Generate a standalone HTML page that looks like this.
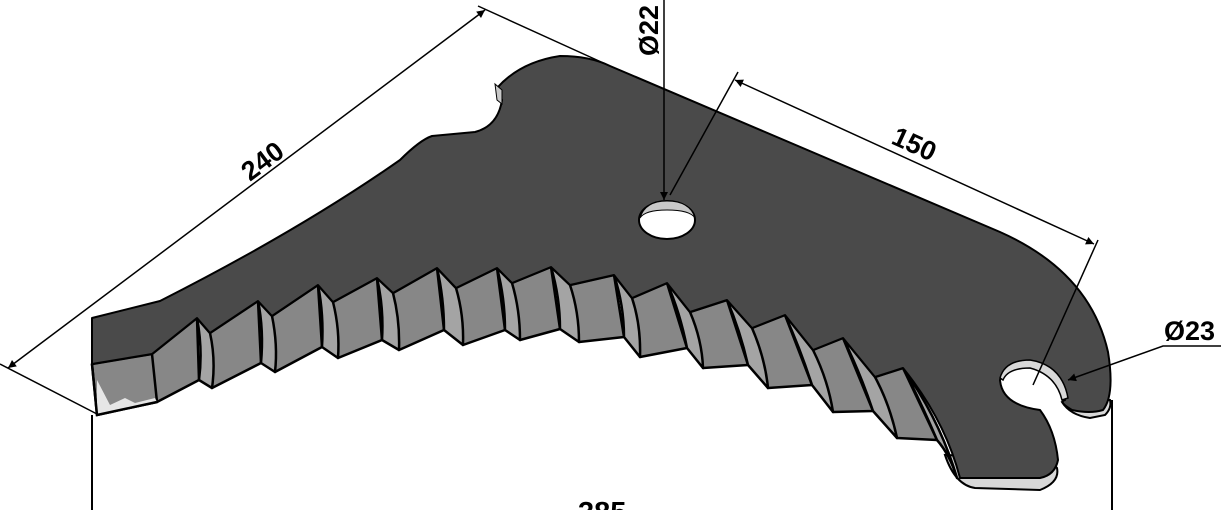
<!DOCTYPE html>
<html><head><meta charset="utf-8"><style>
html,body{margin:0;padding:0;background:#fff;width:1221px;height:510px;overflow:hidden}
svg{display:block}
text{font-family:"Liberation Sans",Arial,sans-serif;font-weight:bold;fill:#000}
</style></head><body>
<svg width="1221" height="510" viewBox="0 0 1221 510" xmlns="http://www.w3.org/2000/svg">
<defs>
<marker id="a" viewBox="0 0 10 10" refX="10" refY="5" markerWidth="10" markerHeight="8" orient="auto-start-reverse" markerUnits="userSpaceOnUse"><path d="M0,0 L10,5 L0,10 z" fill="#000"/></marker>
</defs>
<path d="M945,455 Q955,485 975,488 L1040,490 Q1060,482 1057,468 L1050,460 Z" fill="#d8d8d8" stroke="#000" stroke-width="2"/>
<path d="M1062,402 Q1070,415 1090,418 L1105,415 Q1112,408 1110,400 L1070,398 Z" fill="#d8d8d8" stroke="#000" stroke-width="2"/>
<g fill="#878787" stroke="#000" stroke-width="2.5" stroke-linejoin="round">
<path d="M92,364 L152,354 Q158,380 157,402 L97,415 Z"/>
<path d="M210,333 L258,301 L261,363 L212,388 Z"/>
<path d="M272,316 L318,285 L322,347 L275,372 Z"/>
<path d="M333,302 L377,278 L382,340 L338,358 Z"/>
<path d="M393,293 L437,268 L444,330 L399,350 Z"/>
<path d="M456,288 L497,268 L505,330 L463,345 Z"/>
<path d="M512,283 L551,267 L560,329 L520,340 Z"/>
<path d="M570,285 L614,275 L624,337 L579,342 Z"/>
<path d="M632,298 L667,283 L687,348 L640,357 Z"/>
<path d="M690,312 L727,300 L748,365 L703,368 Z"/>
<path d="M752,328 L785,315 L812,385 L768,388 Z"/>
<path d="M813,350 L843,338 L873,411 L833,412 Z"/>
<path d="M875,377 L903,368 L937,440 L897,438 Z"/>
<path d="M152,354 L197,318 L199,380 L157,402 Z"/>
</g>
<g fill="#a4a4a4" stroke="#000" stroke-width="2.5" stroke-linejoin="round">
<path d="M197,318 L210,333 Q216,360 212,388 L199,380 Q203,350 197,318 Z"/>
<path d="M258,301 L272,316 Q278,345 275,372 L261,363 Q264,330 258,301 Z"/>
<path d="M318,285 L333,302 Q340,330 338,358 L322,347 Q324,315 318,285 Z"/>
<path d="M377,278 L393,293 Q400,320 399,350 L382,340 Q384,308 377,278 Z"/>
<path d="M437,268 L456,288 Q464,315 463,345 L444,330 Q444,298 437,268 Z"/>
<path d="M497,268 L512,283 Q520,310 520,340 L505,330 Q505,298 497,268 Z"/>
<path d="M551,267 L570,285 Q579,312 579,342 L560,329 Q560,297 551,267 Z"/>
<path d="M614,275 L632,298 Q641,325 640,357 L624,337 Q624,305 614,275 Z"/>
<path d="M667,283 L690,312 Q702,340 703,368 L687,348 Q680,312 667,283 Z"/>
<path d="M727,300 L752,328 Q765,358 768,388 L748,365 Q740,330 727,300 Z"/>
<path d="M785,315 L813,350 Q828,380 833,412 L812,385 Q800,348 785,315 Z"/>
<path d="M843,338 L875,377 Q890,405 897,438 L873,411 Q860,372 843,338 Z"/>
<path d="M903,368 Q940,420 957,478 Q950,455 937,440 Q920,400 903,368 Z"/>
</g>
<path d="M97,380 L110,405 L125,398 L135,403 L155,398 L157,402 L97,415 Z" fill="#e6e6e6"/>
<path d="M92,364 L97,415 L157,402" fill="none" stroke="#000" stroke-width="2.5"/>
<path d="M92,318 L160,301 Q300,230 400,160 Q420,140 432,136 L475,132 Q498,126 502,100 L497,88 Q520,62 560,56 Q590,56 610,66 L1000,232 Q1090,272 1108,352 Q1115,395 1103,410 Q1090,414 1072,410 Q1058,402 1065,400 Q1060,370 1030,362 Q1005,362 1000,380 Q1002,405 1040,410 Q1055,430 1058,460 Q1055,475 1040,478 L960,478 Q945,420 903,368 L875,377 L843,338 L813,350 L785,315 L752,328 L727,300 L690,312 L667,283 L632,298 L614,275 L570,285 L551,267 L512,283 L497,268 L456,288 L437,268 L393,293 L377,278 L333,302 L318,285 L272,316 L258,301 L210,333 L197,318 L152,354 L92,364 Z" fill="#4a4a4a" stroke="#000" stroke-width="2" stroke-linejoin="round"/>
<path d="M1000,378 Q1005,360 1030,360 Q1062,365 1068,398 L1062,400 Q1056,375 1030,368 Q1008,368 1003,380 Z" fill="#d8d8d8" stroke="#000" stroke-width="1.5"/>
<path d="M495,84 L497,100 L502,104 L502,90 Z" fill="#c8c8c8" stroke="#000" stroke-width="1"/>
<ellipse cx="667" cy="220" rx="28" ry="19" fill="#fff" stroke="#000" stroke-width="2"/>
<path d="M640,218 Q645,201 667,201 Q690,201 695,218 Q690,210 667,210 Q645,210 640,218 Z" fill="#c8c8c8" stroke="#000" stroke-width="1"/>
<line x1="0" y1="364" x2="97" y2="414" stroke="#000" stroke-width="1.5"/>
<line x1="478" y1="6" x2="610" y2="66" stroke="#000" stroke-width="1.5"/>
<line x1="8" y1="368" x2="485" y2="10" stroke="#000" stroke-width="1.5" marker-start="url(#a)" marker-end="url(#a)"/>
<text x="0" y="0" font-size="27" transform="translate(250,182) rotate(-37)">240</text>
<line x1="670" y1="195" x2="738" y2="72" stroke="#000" stroke-width="1.5"/>
<line x1="1033" y1="385" x2="1098" y2="240" stroke="#000" stroke-width="1.5"/>
<line x1="735" y1="80" x2="1094" y2="244" stroke="#000" stroke-width="1.5" marker-start="url(#a)" marker-end="url(#a)"/>
<text x="0" y="0" font-size="27" transform="translate(890,143) rotate(24.5)">150</text>
<line x1="664" y1="0" x2="664" y2="200" stroke="#000" stroke-width="1.5" marker-end="url(#a)"/>
<text x="0" y="0" font-size="27" transform="translate(658,56) rotate(-90)">Ø22</text>
<polyline points="1221,346 1163,346 1068,380" fill="none" stroke="#000" stroke-width="1.5" marker-end="url(#a)"/>
<text x="1164" y="340" font-size="27">Ø23</text>
<line x1="92" y1="415" x2="92" y2="510" stroke="#000" stroke-width="2"/>
<line x1="1112" y1="400" x2="1112" y2="510" stroke="#000" stroke-width="2"/>
<text x="578" y="522" font-size="29">385</text>
</svg>
</body></html>
